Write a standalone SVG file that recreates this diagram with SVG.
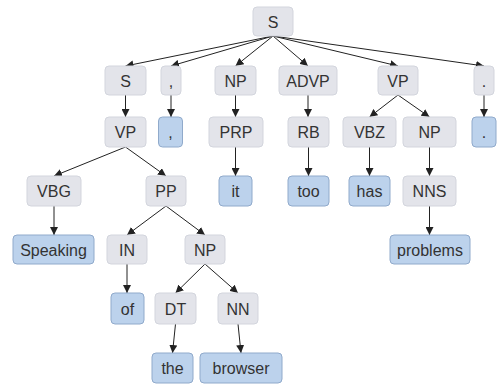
<svg xmlns="http://www.w3.org/2000/svg" width="497" height="385" viewBox="0 0 497 385">
<defs>
<marker id="ah" viewBox="0 0 10 10" refX="10" refY="5" markerWidth="8" markerHeight="8" markerUnits="userSpaceOnUse" orient="auto">
<path d="M0,0 L10,5 L0,10 Z" fill="#222"/>
</marker>
<style>
.n rect{fill:#e3e4ea;stroke:#d3d5dd;stroke-width:1}
.l rect{fill:#bcd2ec;stroke:#90aacb;stroke-width:1}
text{font-family:"Liberation Sans",Arial,sans-serif;font-size:16px;fill:#333;text-anchor:middle}
.e line{stroke:#222;stroke-width:1;marker-end:url(#ah)}
</style>
</defs>
<rect width="497" height="385" fill="#fff"/>
<g id="edges" class="e">
<line x1="273" y1="36" x2="125.5" y2="66"/>
<line x1="273" y1="36" x2="171" y2="66"/>
<line x1="273" y1="36" x2="235.5" y2="66"/>
<line x1="273" y1="36" x2="308" y2="66"/>
<line x1="273" y1="36" x2="398" y2="66"/>
<line x1="273" y1="36" x2="484" y2="66"/>
<line x1="125.5" y1="95" x2="125.5" y2="117"/>
<line x1="171" y1="95" x2="171" y2="117"/>
<line x1="235.5" y1="95" x2="235.5" y2="117"/>
<line x1="308" y1="95" x2="308" y2="117"/>
<line x1="398" y1="95" x2="369.5" y2="117"/>
<line x1="398" y1="95" x2="429.5" y2="117"/>
<line x1="484" y1="95" x2="484" y2="117"/>
<line x1="125.5" y1="147" x2="54" y2="176"/>
<line x1="125.5" y1="147" x2="166" y2="176"/>
<line x1="235.5" y1="147" x2="235.5" y2="176"/>
<line x1="308.5" y1="147" x2="308.5" y2="176"/>
<line x1="369.5" y1="147" x2="369.5" y2="176"/>
<line x1="429.5" y1="147" x2="429.5" y2="176"/>
<line x1="54" y1="206" x2="54" y2="235"/>
<line x1="166" y1="206" x2="127" y2="235"/>
<line x1="166" y1="206" x2="205" y2="235"/>
<line x1="429.5" y1="206" x2="429.5" y2="235"/>
<line x1="127" y1="264" x2="127" y2="293"/>
<line x1="205" y1="264" x2="175.5" y2="293"/>
<line x1="205" y1="264" x2="238" y2="293"/>
<line x1="175.5" y1="324" x2="172.5" y2="353"/>
<line x1="238" y1="324" x2="241" y2="353"/>
</g>
<g id="n1" class="n"><rect x="253" y="7" width="40" height="29" rx="4"/><text x="273" y="27.5">S</text></g>
<g id="n2" class="n"><rect x="105" y="66" width="41" height="29" rx="4"/><text x="125.5" y="86.5">S</text></g>
<g id="n3" class="n"><rect x="161" y="66" width="20" height="29" rx="4"/><text x="171" y="86.5">,</text></g>
<g id="n4" class="n"><rect x="215" y="66" width="41" height="29" rx="4"/><text x="235.5" y="86.5">NP</text></g>
<g id="n5" class="n"><rect x="279" y="66" width="58" height="29" rx="4"/><text x="308" y="86.5">ADVP</text></g>
<g id="n6" class="n"><rect x="378" y="66" width="40" height="29" rx="4"/><text x="398" y="86.5">VP</text></g>
<g id="n7" class="n"><rect x="474" y="66" width="20" height="29" rx="4"/><text x="484" y="86.5">.</text></g>
<g id="n8" class="n"><rect x="105" y="117" width="41" height="30" rx="4"/><text x="125.5" y="138">VP</text></g>
<g id="n9" class="l"><rect x="158.5" y="117" width="24" height="30" rx="4"/><text x="170.5" y="138">,</text></g>
<g id="n10" class="n"><rect x="209" y="117" width="54" height="30" rx="4"/><text x="236" y="138">PRP</text></g>
<g id="n11" class="n"><rect x="288" y="117" width="41" height="30" rx="4"/><text x="308.5" y="138">RB</text></g>
<g id="n12" class="n"><rect x="343" y="117" width="53" height="30" rx="4"/><text x="369.5" y="138">VBZ</text></g>
<g id="n13" class="n"><rect x="403" y="117" width="53" height="30" rx="4"/><text x="429.5" y="138">NP</text></g>
<g id="n14" class="l"><rect x="472" y="117" width="24" height="30" rx="4"/><text x="484" y="138">.</text></g>
<g id="n15" class="n"><rect x="27" y="176" width="54" height="30" rx="4"/><text x="54" y="197">VBG</text></g>
<g id="n16" class="n"><rect x="146" y="176" width="40" height="30" rx="4"/><text x="166" y="197">PP</text></g>
<g id="n17" class="l"><rect x="219" y="176" width="33" height="30" rx="4"/><text x="235.5" y="197">it</text></g>
<g id="n18" class="l"><rect x="288" y="176" width="41" height="30" rx="4"/><text x="308.5" y="197">too</text></g>
<g id="n19" class="l"><rect x="349" y="176" width="41" height="30" rx="4"/><text x="369.5" y="197">has</text></g>
<g id="n20" class="n"><rect x="403" y="176" width="53" height="30" rx="4"/><text x="429.5" y="197">NNS</text></g>
<g id="n21" class="l"><rect x="13" y="235" width="81" height="29" rx="4"/><text x="53.5" y="255.5">Speaking</text></g>
<g id="n22" class="n"><rect x="107" y="235" width="40" height="29" rx="4"/><text x="127" y="255.5">IN</text></g>
<g id="n23" class="n"><rect x="185" y="235" width="40" height="29" rx="4"/><text x="205" y="255.5">NP</text></g>
<g id="n24" class="l"><rect x="390" y="235" width="80" height="29" rx="4"/><text x="430" y="255.5">problems</text></g>
<g id="n25" class="l"><rect x="111" y="293" width="33" height="31" rx="4"/><text x="127.5" y="314.5">of</text></g>
<g id="n26" class="n"><rect x="155" y="293" width="41" height="31" rx="4"/><text x="175.5" y="314.5">DT</text></g>
<g id="n27" class="n"><rect x="218" y="293" width="40" height="31" rx="4"/><text x="238" y="314.5">NN</text></g>
<g id="n28" class="l"><rect x="152" y="353" width="41" height="30" rx="4"/><text x="172.5" y="374">the</text></g>
<g id="n29" class="l"><rect x="200" y="353" width="82" height="30" rx="4"/><text x="241" y="374">browser</text></g>
</svg>
